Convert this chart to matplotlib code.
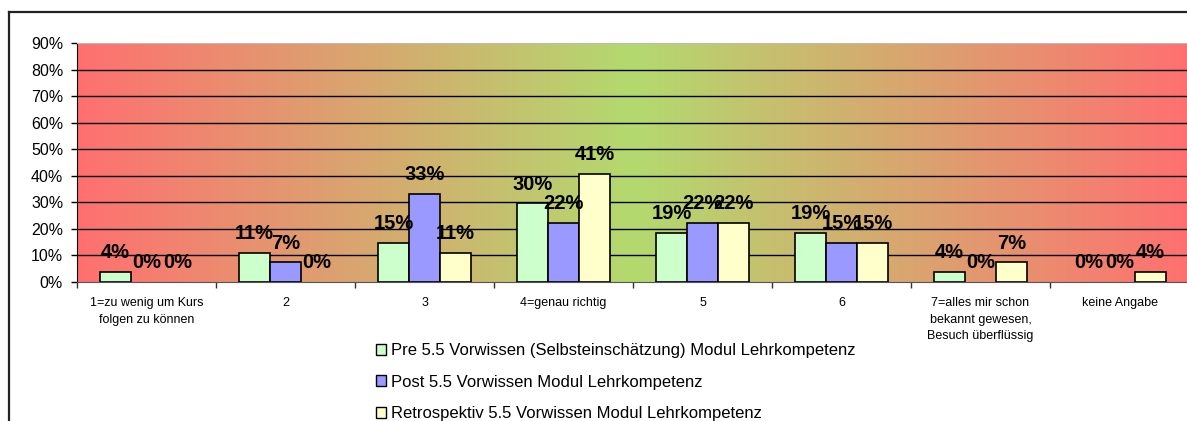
import numpy as np
import matplotlib
matplotlib.use("Agg")
import matplotlib.pyplot as plt
from matplotlib.patches import Patch
from matplotlib.lines import Line2D
from matplotlib.colors import LinearSegmentedColormap

plt.rcParams['font.family'] = ['Liberation Sans', 'DejaVu Sans']

# data (share of 27 answers, in %)
categories = ['1=zu wenig um Kurs\nfolgen zu können', '2', '3', '4=genau richtig',
              '5', '6', '7=alles mir schon\nbekannt gewesen,\nBesuch überflüssig',
              'keine Angabe']
pre = [3.7, 11.1, 14.8, 29.6, 18.5, 18.5, 3.7, 0.0]
post = [0.0, 7.4, 33.3, 22.2, 22.2, 14.8, 0.0, 0.0]
retro = [0.0, 0.0, 11.1, 40.7, 22.2, 14.8, 7.4, 3.7]
series_names = ['Pre 5.5 Vorwissen (Selbsteinschätzung) Modul Lehrkompetenz',
                'Post 5.5 Vorwissen Modul Lehrkompetenz',
                'Retrospektiv 5.5 Vorwissen Modul Lehrkompetenz']
series_colors = ['#CCFFCC', '#9999FF', '#FFFFCC']
yticks = [0, 10, 20, 30, 40, 50, 60, 70, 80, 90]

W, H = 1187, 421
fig = plt.figure(figsize=(W / 100, H / 100), dpi=100)
ax = fig.add_axes([77 / W, 1 - 282 / H, 1112 / W, 239 / H])

x = np.arange(len(categories))
ax.set_xlim(-0.5, len(categories) - 0.5)
ax.set_ylim(0, 90)

# red - green - red background
cmap = LinearSegmentedColormap.from_list('bg', ['#FF7070', '#B3DA6E', '#FF7070'])
grad = np.linspace(0, 1, 512).reshape(1, -1)
ax.imshow(grad, cmap=cmap, extent=[-0.5, len(categories) - 0.5, 0, 90],
          aspect='auto', zorder=0, interpolation='bicubic')

for v in yticks[1:-1]:
    ax.axhline(v, color='black', lw=1, zorder=1)

bw = 0.223
for i, (vals, col) in enumerate(zip([pre, post, retro], series_colors)):
    pos = x + (i - 1) * bw
    lws = [1.2 if v > 0 else 0 for v in vals]
    ax.bar(pos, vals, width=bw, color=col, edgecolor='black', linewidth=lws, zorder=3)
    for px, v in zip(pos, vals):
        ax.annotate(f'{int(v + 0.5)}%', (px, v), xytext=(0, 7), textcoords='offset points',
                    ha='center', va='bottom', fontsize=14.5, fontweight='bold', zorder=5)

ax.set_yticks(yticks)
ax.set_yticklabels([f'{v}%' for v in yticks], fontsize=11.5)
ax.tick_params(axis='y', direction='out', length=4, width=1, pad=6)

ax.set_xticks(np.arange(-0.5, len(categories), 1.0))
ax.set_xticklabels([])
ax.tick_params(axis='x', which='major', direction='out', length=4, width=1, color='#333333')
ax.set_xticks(x, minor=True)
ax.set_xticklabels(categories, minor=True, fontsize=9, linespacing=1.5, va='top')
ax.tick_params(axis='x', which='minor', length=0, pad=11)

ax.spines['top'].set_color('#BBBBBB')
ax.spines['right'].set_visible(False)
ax.spines['bottom'].set_color('#555555')
ax.spines['left'].set_color('black')

# chart frame
fig.add_artist(Line2D([8.5 / W, 8.5 / W], [0, 1 - 12 / H], color='#222222', lw=1.6))
fig.add_artist(Line2D([8.5 / W, 1], [1 - 12 / H, 1 - 12 / H], color='#222222', lw=1.6))

handles = [Patch(facecolor=c, edgecolor='black', lw=1) for c in series_colors]
fig.legend(handles, series_names, loc='upper left', bbox_to_anchor=(376 / W, 1 - 343 / H),
           frameon=False, fontsize=12, labelspacing=1.0, handlelength=0.62,
           handleheight=0.62, handletextpad=0.3, borderpad=0, borderaxespad=0)

fig.savefig('out.png', dpi=100)
